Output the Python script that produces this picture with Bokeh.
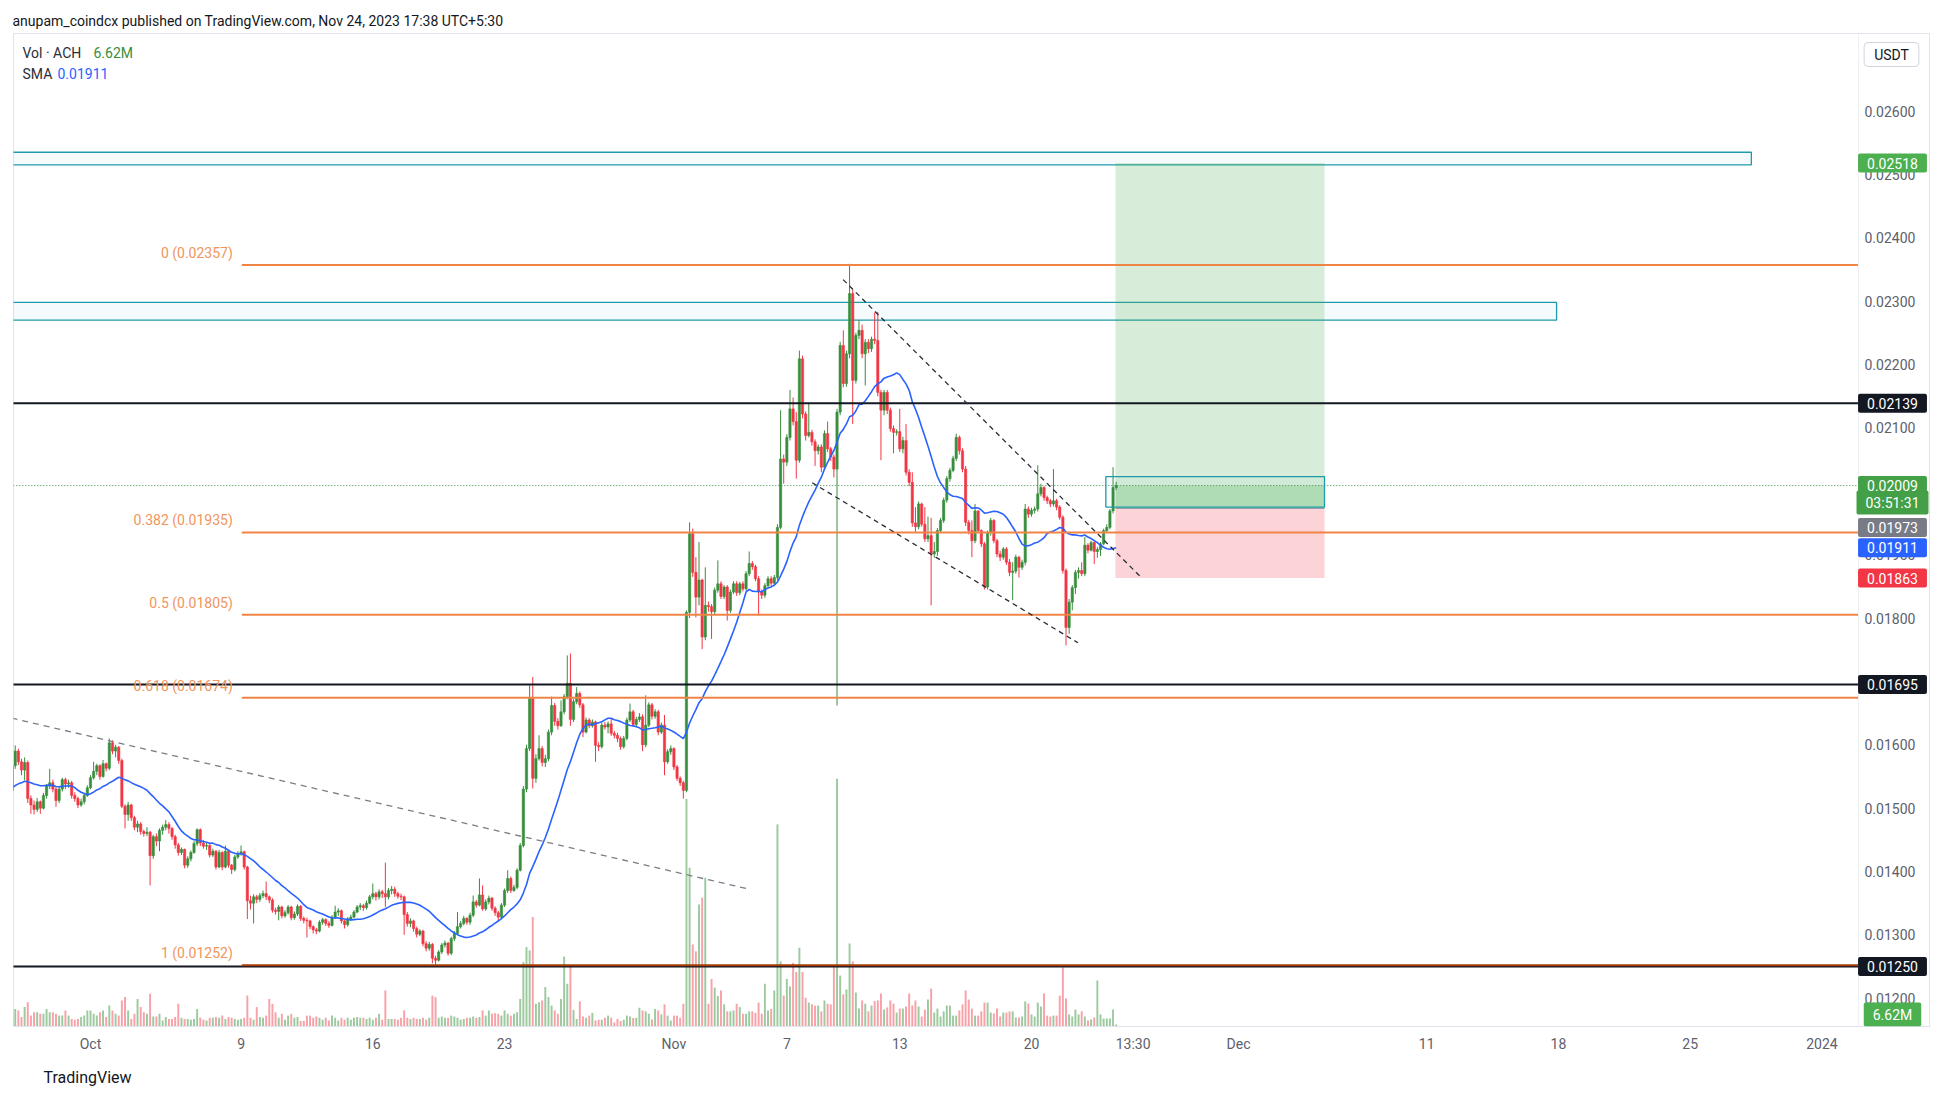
from bokeh.plotting import figure
from bokeh.models import Range1d, FixedTicker, Label, ColumnDataSource, Title
from bokeh.embed import file_html
from bokeh.resources import INLINE
from bokeh.core.properties import value

FONT = "Roboto"

# ---------------- data (prices in 1e-5 USDT, 4h bars) ----------------
first_open_1e5 = 1528
close_1e5 = [
    1567,1590,1573,1560,1572,1515,1505,1498,1510,1500,
    1520,1535,1540,1530,1512,1530,1545,1538,1540,1520,
    1515,1505,1510,1520,1532,1548,1558,1567,1550,1570,
    1563,1603,1590,1596,1575,1503,1490,1505,1485,1470,
    1475,1463,1460,1462,1425,1455,1448,1465,1470,1474,
    1468,1455,1442,1430,1435,1410,1420,1430,1444,1466,
    1445,1440,1441,1426,1432,1407,1430,1407,1432,1410,
    1403,1423,1428,1431,1407,1354,1350,1360,1356,1362,
    1365,1360,1355,1339,1337,1344,1330,1335,1344,1327,
    1333,1345,1326,1323,1322,1313,1308,1306,1320,1324,
    1318,1315,1328,1336,1338,1322,1316,1325,1328,1336,
    1344,1346,1343,1350,1360,1365,1360,1368,1365,1360,
    1370,1372,1365,1361,1360,1332,1318,1322,1310,1301,
    1306,1286,1279,1285,1263,1260,1273,1284,1287,1271,
    1294,1302,1313,1318,1326,1320,1331,1352,1347,1363,
    1341,1352,1358,1342,1335,1328,1347,1370,1389,1370,
    1375,1402,1441,1530,1594,1673,1547,1578,1594,1572,
    1578,1620,1662,1637,1630,1652,1676,1697,1640,1668,
    1681,1663,1620,1639,1630,1636,1599,1597,1631,1628,
    1633,1618,1615,1610,1597,1610,1639,1652,1632,1640,
    1644,1600,1631,1663,1645,1652,1620,1631,1573,1589,
    1594,1565,1547,1540,1528,1809,1933,1872,1833,1860,
    1770,1820,1818,1810,1844,1854,1834,1849,1812,1841,
    1854,1840,1854,1846,1870,1886,1881,1862,1841,1836,
    1851,1862,1855,1864,1943,2051,2046,2085,2130,2110,
    2049,2209,2122,2088,2093,2078,2064,2070,2038,2091,
    2067,2054,2035,2125,2230,2170,2217,2312,2175,2246,
    2254,2217,2235,2225,2240,2238,2156,2128,2156,2128,
    2099,2093,2094,2067,2080,2030,2014,1950,1944,1980,
    1948,1925,1930,1901,1905,1938,1954,1986,2020,2033,
    2052,2085,2064,2035,1951,1938,1922,1969,1938,1917,
    1849,1935,1954,1922,1901,1896,1909,1888,1872,1874,
    1896,1880,1888,1972,1964,1970,1972,1996,2006,1990,
    1985,1980,1985,1975,1959,1875,1785,1825,1848,1872,
    1875,1870,1915,1907,1919,1905,1908,1917,1938,1943,
    1969,2006,2009,
]
high_1e5 = [
    1570,1599,1594,1578,1580,1575,1520,1512,1516,1512,
    1524,1538,1562,1545,1533,1534,1548,1548,1545,1543,
    1525,1518,1515,1524,1536,1552,1573,1570,1569,1576,
    1572,1610,1607,1600,1598,1578,1506,1510,1507,1488,
    1480,1478,1466,1470,1464,1458,1460,1468,1474,1481,
    1478,1470,1458,1445,1438,1436,1424,1433,1448,1468,
    1468,1450,1446,1443,1436,1434,1434,1432,1441,1434,
    1412,1426,1432,1441,1433,1409,1362,1364,1363,1366,
    1370,1384,1362,1358,1343,1347,1346,1339,1347,1346,
    1337,1348,1347,1329,1327,1324,1315,1311,1323,1327,
    1326,1322,1331,1346,1342,1340,1324,1328,1332,1339,
    1347,1350,1349,1354,1363,1381,1368,1372,1371,1414,
    1374,1377,1376,1368,1365,1362,1336,1326,1324,1313,
    1309,1308,1290,1289,1287,1267,1276,1287,1291,1289,
    1297,1306,1336,1322,1330,1328,1335,1362,1355,1389,
    1378,1356,1362,1360,1345,1338,1350,1373,1402,1392,
    1379,1405,1445,1535,1600,1694,1707,1585,1615,1598,
    1584,1624,1676,1666,1642,1670,1680,1741,1744,1672,
    1691,1684,1666,1643,1642,1640,1638,1604,1635,1636,
    1637,1641,1622,1619,1613,1614,1643,1665,1655,1644,
    1650,1648,1678,1667,1666,1656,1655,1635,1647,1593,
    1599,1596,1568,1550,1543,1812,1951,1941,1896,1920,
    1862,1880,1826,1822,1848,1891,1858,1852,1852,1845,
    1858,1858,1857,1858,1874,1905,1890,1884,1866,1845,
    1855,1866,1866,1868,1948,2128,2058,2090,2160,2148,
    2125,2222,2214,2126,2140,2097,2082,2074,2074,2096,
    2110,2070,2058,2130,2236,2254,2222,2359,2318,2250,
    2270,2263,2240,2240,2244,2282,2283,2160,2160,2160,
    2132,2104,2098,2130,2086,2106,2035,2030,1975,1984,
    1982,1975,1960,1958,1920,1942,1958,1990,2024,2037,
    2056,2091,2088,2068,2040,1955,1954,1980,1970,1940,
    1920,1938,1958,1956,1925,1906,1912,1912,1893,1888,
    1900,1898,1892,1980,1976,1974,1976,2041,2012,2008,
    1993,1988,2035,1988,1978,1962,1878,1830,1852,1876,
    1880,1888,1928,1918,1922,1921,1912,1920,1941,1948,
    1972,2038,2015,
]
low_1e5 = [
    1525,1562,1568,1552,1544,1508,1491,1490,1494,1491,
    1498,1515,1530,1525,1502,1508,1526,1530,1532,1515,
    1510,1500,1502,1506,1518,1530,1545,1552,1545,1548,
    1558,1560,1585,1580,1570,1500,1468,1480,1480,1465,
    1462,1458,1455,1456,1378,1420,1440,1432,1458,1465,
    1460,1450,1436,1425,1426,1405,1406,1416,1428,1440,
    1440,1436,1434,1422,1423,1403,1405,1402,1405,1406,
    1396,1400,1420,1425,1403,1325,1340,1318,1350,1352,
    1358,1355,1350,1335,1332,1323,1326,1327,1332,1323,
    1324,1330,1322,1318,1296,1309,1302,1301,1304,1316,
    1314,1311,1313,1325,1330,1318,1310,1313,1322,1326,
    1334,1339,1338,1340,1348,1356,1354,1356,1358,1344,
    1356,1364,1360,1357,1355,1300,1313,1312,1305,1296,
    1298,1282,1274,1275,1255,1252,1258,1270,1280,1267,
    1268,1290,1300,1310,1315,1316,1316,1328,1343,1345,
    1338,1338,1348,1338,1330,1322,1326,1344,1366,1366,
    1368,1372,1400,1438,1525,1590,1531,1540,1575,1566,
    1565,1574,1615,1630,1624,1628,1648,1672,1630,1636,
    1664,1658,1612,1618,1626,1627,1573,1590,1594,1624,
    1618,1614,1610,1604,1592,1594,1607,1636,1628,1628,
    1636,1590,1596,1628,1640,1641,1615,1617,1552,1570,
    1584,1560,1543,1535,1515,1525,1800,1865,1801,1820,
    1751,1765,1810,1767,1806,1840,1830,1830,1796,1808,
    1838,1835,1836,1842,1843,1866,1876,1858,1804,1830,
    1832,1848,1850,1852,1860,1940,2012,2040,2080,2104,
    2020,2045,2115,2080,2085,2072,2040,2058,2030,2034,
    2062,2048,2022,1662,2120,2164,2165,2210,2106,2170,
    2240,2210,2167,2218,2220,2232,2150,2049,2120,2122,
    2094,2060,2088,2062,2060,2025,2008,1944,1936,1940,
    1944,1920,1920,1820,1895,1898,1935,1950,1982,2015,
    2030,2048,2058,2030,1945,1932,1896,1918,1934,1912,
    1845,1845,1930,1918,1896,1890,1892,1884,1866,1828,
    1870,1864,1876,1883,1958,1960,1965,1968,1992,1985,
    1980,1975,1976,1970,1955,1870,1757,1775,1812,1838,
    1862,1866,1866,1902,1905,1885,1895,1898,1915,1935,
    1940,1965,2002,
]
volume_m = [
    53,58,53,31,64,80,36,47,47,42,
    42,58,47,47,42,36,36,53,36,25,
    22,25,31,36,53,53,42,36,47,53,
    31,69,53,42,36,86,97,53,25,42,
    91,64,47,42,108,33,33,42,20,31,
    25,25,31,75,29,25,25,22,25,58,
    29,22,20,29,29,31,29,36,25,31,
    29,25,22,25,29,102,29,22,64,31,
    29,36,91,75,47,29,42,22,36,42,
    29,31,18,18,36,36,29,33,29,22,
    29,20,36,29,20,29,22,29,22,29,
    31,29,29,25,29,22,29,42,22,119,
    25,25,25,22,29,53,29,25,29,25,
    25,29,22,29,102,97,29,33,29,29,
    36,33,29,22,25,29,29,33,29,31,
    53,36,53,42,44,42,36,53,42,36,
    42,47,91,212,262,251,361,75,80,86,
    130,97,69,53,42,91,231,141,201,55,
    25,83,33,29,36,45,20,22,22,29,
    36,29,13,25,18,22,36,33,28,29,
    62,53,50,42,23,58,53,40,73,36,
    20,36,36,29,75,751,524,271,248,403,
    425,491,75,157,128,101,119,73,50,50,
    53,75,64,42,42,50,50,45,79,42,
    141,53,58,119,667,215,102,157,132,210,
    180,260,180,95,79,73,69,69,50,86,
    75,73,198,818,168,106,122,274,215,112,
    59,86,75,50,69,84,86,109,56,63,
    86,75,46,59,59,66,109,69,86,66,
    33,56,89,125,46,59,33,50,69,69,
    36,36,53,73,119,89,59,36,36,50,
    79,79,46,43,59,33,46,46,50,50,
    30,30,33,83,76,40,33,79,66,109,
    36,33,36,36,102,195,92,40,33,56,
    40,50,33,20,23,30,152,40,26,26,
    26,56,6.62,
]
# closes of the 19 bars just left of the visible range (seed for the 20-bar SMA)
sma_seed_1e5 = [1512,1520,1528,1522,1530,1536,1541,1534,1527,1520,
                1525,1532,1538,1545,1540,1533,1526,1531,1528]
SMA_LEN = 20

# time: days from 1 Oct 2023 00:00; 4h bars
first_bar_day = -4 - 1 / 6
bar_days = 1 / 6

# axis labels
time_ticks = [0, 8, 15, 22, 31, 37, 43, 50, 55.4, 61, 71, 78, 85, 92]
time_labels = ["Oct", "9", "16", "23", "Nov", "7", "13", "20", "13:30", "Dec", "11", "18", "25", "2024"]
price_ticks = [0.012, 0.013, 0.014, 0.015, 0.016, 0.017, 0.018, 0.019, 0.020,
               0.021, 0.022, 0.023, 0.024, 0.025, 0.026]

# drawings
black_levels = [0.02139, 0.01695, 0.01250]
fib_names = ["0", "0.382", "0.5", "0.618", "1"]
fib_prices = [0.02357, 0.01935, 0.01805, 0.01674, 0.01252]
fib_colors = ["#ef8446", "#ef8446", "#ef8446", "#ef8446", "#a53c08"]
fib_start_day = 8.04

zone_left = [-10, -10]
zone_right = [88.25, 77.9]
zone_bottom = [0.02515, 0.02270]
zone_top = [0.02535, 0.02298]

trend_x0 = [-4.2, 39.99, 38.35]
trend_y0 = [0.016421, 0.02334, 0.020134]
trend_x1 = [34.91, 55.85, 52.47]
trend_y1 = [0.013727, 0.018635, 0.017609]
trend_colors = ["#7b7e87", "#2b2e36", "#2b2e36"]

pos_left, pos_right = 54.46, 65.57
pos_entry, pos_target, pos_stop = 0.01973, 0.02518, 0.01863
last_price = 0.02009
box_left, box_right, box_bottom, box_top = 53.95, 65.57, 0.01975, 0.02023

# ---------------- derived series ----------------
UP, DN = "#388e3c", "#f23645"
UPV, DNV = "#9cc99e", "#f8a1a8"
n = len(close_1e5)
close = [c / 1e5 for c in close_1e5]
opn = [first_open_1e5 / 1e5] + close[:-1]
high = [max(h / 1e5, o, c) for h, o, c in zip(high_1e5, opn, close)]
low = [min(l / 1e5, o, c) for l, o, c in zip(low_1e5, opn, close)]
xs = [first_bar_day + i * bar_days for i in range(n)]
is_up = [c >= o for o, c in zip(opn, close)]
col = [UP if u else DN for u in is_up]
vcol = [UPV if u else DNV for u in is_up]
allc = [s / 1e5 for s in sma_seed_1e5] + close
sma = [sum(allc[i:i + SMA_LEN]) / SMA_LEN for i in range(n)]

src = ColumnDataSource(dict(x=xs, o=opn, c=close, h=high, l=low,
                            top=[max(a, b) for a, b in zip(opn, close)],
                            bot=[min(a, b) for a, b in zip(opn, close)],
                            col=col, vcol=vcol, vol=volume_m[:n], sma=sma))

# ---------------- figure ----------------
# page pixels: chart pane 13..1858 x 33..1026, price scale 1858..1930
FRAME_L, FRAME_T, PANE_R, FRAME_R, FRAME_B = 13, 33, 1858, 1930, 1026
PX_PER_DAY = 18.82
X_MIN = -4.0914
PANE_R_DAY = X_MIN + (PANE_R - FRAME_L) / PX_PER_DAY
X_MAX = X_MIN + (FRAME_R - FRAME_L) / PX_PER_DAY

p = figure(frame_width=FRAME_R - FRAME_L, frame_height=FRAME_B - FRAME_T,
           x_range=Range1d(X_MIN, X_MAX), y_range=Range1d(0.011554, 0.027224),
           y_axis_location=None, output_backend="svg", toolbar_location=None,
           min_border_left=FRAME_L, min_border_top=FRAME_T,
           min_border_right=0, min_border_bottom=75,
           background_fill_color="white", border_fill_color="white",
           outline_line_color="#e0e3eb")
p.grid.visible = False
p.extra_y_ranges = {"vol": Range1d(0, 3277)}

# header / footer
p.title = Title(text="anupam_coindcx published on TradingView.com, Nov 24, 2023 17:38 UTC+5:30",
                align="left", offset=-1, standoff=9, text_font=FONT, text_font_size="14px",
                text_font_style="normal", text_color="#131722")
p.add_layout(Title(text="TradingView", align="left", offset=30, standoff=23, text_font=FONT,
                   text_font_size="16px", text_font_style="normal", text_color="#131722"), "below")

# time axis
xa = p.xaxis[0]
xa.ticker = FixedTicker(ticks=time_ticks)
xa.major_label_overrides = {t: s for t, s in zip(time_ticks, time_labels)}
xa.major_label_text_font = FONT
xa.major_label_text_font_size = "14px"
xa.major_label_text_color = "#5d606b"
xa.major_tick_line_color = None
xa.minor_tick_line_color = None
xa.axis_line_color = "#e0e3eb"
xa.major_label_standoff = 3

# rectangles (zones)
p.quad(left=zone_left, right=zone_right, bottom=zone_bottom, top=zone_top,
       fill_color="#0097a7", fill_alpha=0.04, line_color="#1e9ba8", line_width=1.3)

# long position tool
p.quad(left=[pos_left], right=[pos_right], bottom=[pos_entry], top=[pos_target],
       fill_color="#4caf50", fill_alpha=0.22, line_color=None)
p.quad(left=[pos_left], right=[pos_right], bottom=[pos_stop], top=[pos_entry],
       fill_color="#f23645", fill_alpha=0.22, line_color=None)
p.quad(left=[pos_left], right=[pos_right], bottom=[pos_entry], top=[last_price],
       fill_color="#4caf50", fill_alpha=0.25, line_color=None)
p.segment(x0=[pos_left], y0=[pos_entry], x1=[pos_right], y1=[pos_entry],
          line_color="#9598a1", line_width=1)

# volume
p.vbar(x="x", width=bar_days * 0.62, top="vol", bottom=0, y_range_name="vol",
       source=src, fill_color="vcol", line_color=None)

# candles
p.segment(x0="x", y0="l", x1="x", y1="h", line_color="col", line_width=1, source=src)
p.vbar(x="x", width=bar_days * 0.72, top="top", bottom="bot", fill_color="col",
       line_color="col", line_width=0.6, source=src)

# SMA
p.line(x="x", y="sma", line_color="#2962ff", line_width=1.6, source=src)

# horizontal levels (end at the price scale)
p.segment(x0=[-10] * 3, y0=black_levels, x1=[PANE_R_DAY] * 3, y1=black_levels,
          line_color="#131722", line_width=2)
p.segment(x0=[fib_start_day] * 5, y0=fib_prices, x1=[PANE_R_DAY] * 5, y1=fib_prices,
          line_color=fib_colors, line_width=2)
p.text(x=[fib_start_day] * len(fib_prices), y=fib_prices,
       text=[f"{nm} ({pr:.5f})" for nm, pr in zip(fib_names, fib_prices)],
       x_offset=-9, y_offset=-4, text_align="right", text_baseline="bottom",
       text_color="#f0955d", text_font=value(FONT), text_font_size="14px")

# current price dotted line
p.segment(x0=[-10], y0=[last_price], x1=[PANE_R_DAY], y1=[last_price],
          line_color="#388e3c", line_width=1, line_dash="1 2")

# small rectangle around entry
p.quad(left=[box_left], right=[box_right], bottom=[box_bottom], top=[box_top],
       fill_color="#0097a7", fill_alpha=0.03, line_color="#1e9ba8", line_width=1.3)

# trend lines
p.segment(x0=trend_x0[:1], y0=trend_y0[:1], x1=trend_x1[:1], y1=trend_y1[:1],
          line_color=trend_colors[0], line_width=1.3, line_dash="6 5")
p.segment(x0=trend_x0[1:], y0=trend_y0[1:], x1=trend_x1[1:], y1=trend_y1[1:],
          line_color=trend_colors[1], line_width=1.3, line_dash="5 4")

# price scale: separator and tick labels
p.segment(x0=[PANE_R_DAY], y0=[0.0], x1=[PANE_R_DAY], y1=[1.0], line_color="#eef0f4", line_width=1)
p.text(x=[PANE_R_DAY] * len(price_ticks), y=price_ticks, text=[f"{t:.5f}" for t in price_ticks],
       x_offset=6, text_align="left", text_baseline="middle", text_color="#5d606b",
       text_font=value(FONT), text_font_size="14px")


# ---------------- labels (frame-relative screen units) ----------------
def sx(px):
    return px - FRAME_L


def sy(py):
    return FRAME_B - py


def page_label(text, px, py, color, size="14px", align="left", style="normal", **kw):
    p.add_layout(Label(x=sx(px), y=sy(py), x_units="screen", y_units="screen", text=text,
                       text_color=color, text_font=FONT, text_font_size=size,
                       text_align=align, text_baseline="middle", text_font_style=style, **kw))


PAD = dict(left=9, right=9, top=4, bottom=4)


def price_tag(price, bg, text=None, y_off=0, fg="white"):
    p.add_layout(Label(x=sx(1892), y=price, x_units="screen", y_units="data",
                       text=text if text else f"{price:.5f}", y_offset=y_off,
                       text_color=fg, text_font=FONT, text_font_size="14px",
                       text_align="center", text_baseline="middle",
                       background_fill_color=bg, padding=PAD, border_radius=2))


page_label("Vol · ACH", 22, 52, "#2a2e39")
page_label(f"{volume_m[-1]:.2f}M", 93, 52, "#388e3c")
page_label("SMA", 22, 73, "#2a2e39")
page_label(f"{sma[-1]:.5f}", 57, 73, "#2962ff")
page_label("USDT", 1891, 54, "#131722", align="center", background_fill_color="white",
           border_line_color="#d1d4dc", padding=dict(left=10, right=10, top=4, bottom=4),
           border_radius=4)

price_tag(pos_target, "#4caf50")
price_tag(0.02139, "#131722")
price_tag(last_price, "#43a047", text="03:51:31", y_off=-17)
price_tag(last_price, "#43a047")
price_tag(pos_entry, "#787b86", y_off=-19)
price_tag(sma[-1], "#2962ff")
price_tag(pos_stop, "#f23645")
price_tag(0.01695, "#131722")
price_tag(0.01250, "#131722")
page_label(f"{volume_m[-1]:.2f}M", 1892, 1014, "white", align="center",
           background_fill_color="#4caf50", padding=PAD, border_radius=2)

open("out.html", "w").write(file_html(p, INLINE))
